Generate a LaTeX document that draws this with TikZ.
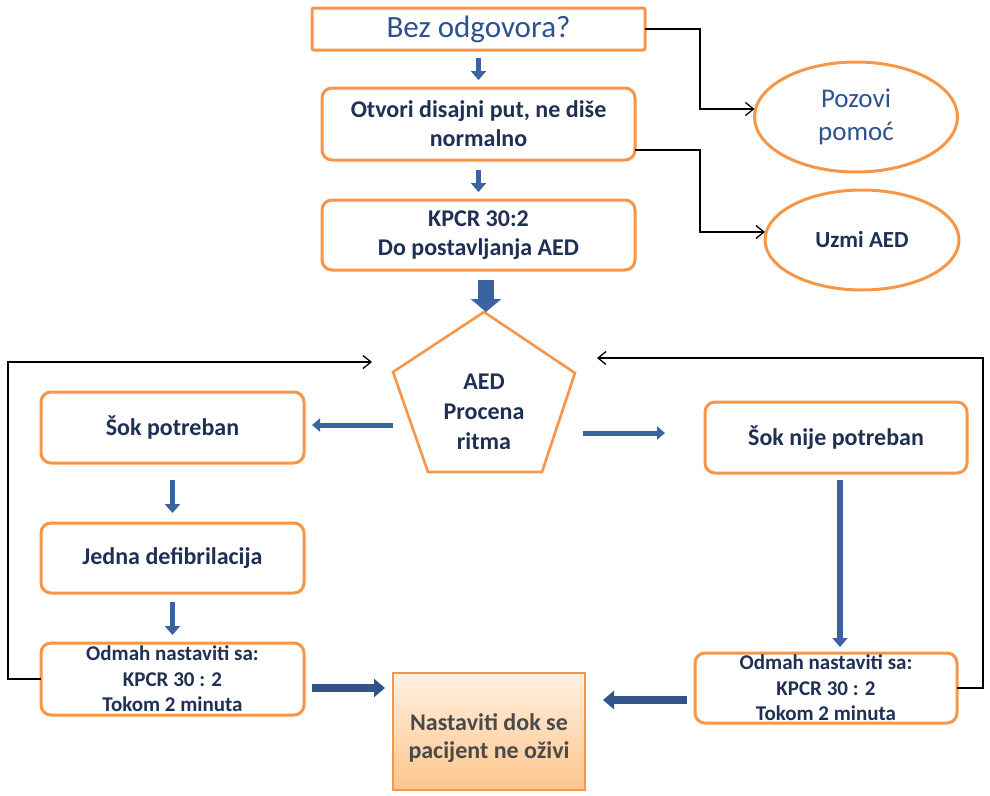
\documentclass[tikz,border=0pt]{standalone}
\usepackage{fontspec}
\setmainfont{Carlito}
\usetikzlibrary{arrows.meta,shapes.geometric,calc}
\definecolor{obord}{HTML}{F79646}
\definecolor{navy}{HTML}{1F3054}
\definecolor{mblue}{HTML}{2D5290}
\definecolor{ablue}{HTML}{3C63A0}
\definecolor{gtext}{HTML}{4A4A4A}
\begin{document}
\begin{tikzpicture}[x=1pt,y=-1pt,
 box/.style={draw=obord, line width=3pt, rounded corners=10pt, fill=white, align=center,
   font=\fontsize{24}{29}\selectfont\bfseries, text=navy, inner sep=0pt, outer sep=0pt},
 smallbox/.style={box, font=\fontsize{21}{25.5}\selectfont\bfseries},
 ell/.style={draw=obord, line width=3pt, ellipse, inner sep=0pt, outer sep=0pt, align=center},
 conn/.style={draw=black, line width=1.3pt, -{Straight Barb[length=8pt,width=13pt]}},
 barrow/.style={draw=ablue, line width=5.5pt, -{Triangle[length=9pt,width=15pt]}},
 harrow/.style={draw=ablue, line width=5pt, -{Triangle[length=8pt,width=13pt]}},
 bigarrow/.style={draw=ablue, line width=16pt, -{Triangle[length=13pt,width=30pt]}},
 fatarrow/.style={draw=ablue!85!black, line width=8pt, -{Triangle[length=11pt,width=18pt]}},
]
\useasboundingbox (0,0) rectangle (990,795);
\clip (0,0) rectangle (990,795);

% top column
\node[box, rounded corners=2pt, minimum width=333pt, minimum height=42pt,
      font=\fontsize{31}{36}\selectfont, text=mblue] (top) at (478.5,29) {Bez odgovora?};
\node[box, minimum width=313pt, minimum height=72pt] (open) at (478.5,124) {Otvori disajni put, ne diše\\normalno};
\node[box, minimum width=313pt, minimum height=70pt] (kpcr) at (478.5,235) {KPCR 30:2\\Do postavljanja AED};

% ellipses
\node[ell, minimum width=203pt, minimum height=110pt, font=\fontsize{27}{33}\selectfont, text=mblue]
      (pozovi) at (856,117) {Pozovi\\pomoć};
\node[ell, minimum width=194pt, minimum height=100pt, font=\fontsize{23}{28}\selectfont\bfseries, text=navy]
      (uzmi) at (862,240) {Uzmi AED};

% pentagon
\coordinate (pT) at (484,312);
\coordinate (pL) at (393,372);
\coordinate (pR) at (575,373);
\coordinate (pBL) at (428,472);
\coordinate (pBR) at (542,472);
\draw[draw=obord, line width=2.6pt, line join=miter] (pT) -- (pR) -- (pBR) -- (pBL) -- (pL) -- cycle;
\node[font=\fontsize{24}{30}\selectfont\bfseries, text=navy, align=center] (aed) at (484,412) {AED\\Procena\\ritma};
\coordinate (aedL) at (393,425);
\coordinate (aedR) at (583,433);

% left column
\node[box, minimum width=263pt, minimum height=71pt] (sokp) at (172.5,427.5) {Šok potreban};
\node[box, minimum width=263pt, minimum height=70pt] (jedna) at (172.5,558) {Jedna defibrilacija};
\node[smallbox, minimum width=263pt, minimum height=72pt] (odmahL) at (172.5,679) {Odmah nastaviti sa:\\KPCR 30 : 2\\Tokom 2 minuta};

% right column
\node[box, minimum width=262pt, minimum height=71pt] (soknp) at (836,437.5) {Šok nije potreban};
\node[smallbox, minimum width=262pt, minimum height=70pt] (odmahR) at (826,688) {Odmah nastaviti sa:\\KPCR 30 : 2\\Tokom 2 minuta};

% centre bottom box
\node[draw=obord, line width=1.2pt, top color=orange!12!white, bottom color=orange!45!white,
      minimum width=192pt, minimum height=117pt, inner sep=0pt, outer sep=0pt] (cont) at (489,731.5) {};
\node[font=\fontsize{24}{28}\selectfont\bfseries, text=gtext, align=center] (conttext) at (489,738) {Nastaviti dok se\\pacijent ne oživi};

% blue arrows
\draw[barrow] ([yshift=-8pt]top.south) -- ([yshift=8pt]open.north);
\draw[barrow] ([yshift=-10pt]open.south) -- ([yshift=8pt]kpcr.north);
\draw[bigarrow] ($(kpcr.south -| pT)+(2,10)$) -- ($(pT)+(2,0)$);
\draw[harrow] (aedL) -- ($(aedL -| sokp.east)+(8,0)$);
\draw[harrow] (aedR) -- ($(aedR -| soknp.west)+(-40,0)$);
\draw[barrow] ([yshift=-17pt]sokp.south) -- ([yshift=10pt]jedna.north);
\draw[barrow] ([yshift=-9pt]jedna.south) -- ([yshift=8pt]odmahL.north);
\draw[barrow] ([yshift=-7pt,xshift=4pt]soknp.south) -- ([yshift=6pt]odmahR.north -| {$(soknp.south)+(4,0)$});
\draw[fatarrow] ($(odmahL.east)+(8,9)$) -- ($(cont.west |- odmahL.east)+(-8,9)$);
\draw[fatarrow] ($(odmahR.west)+(-8,12)$) -- ($(cont.east |- odmahR.west)+(18,12)$);

% thin connectors
\coordinate (fbL) at (372,362);
\coordinate (fbR) at (597,358);
\draw[conn] (top.east) -- ++(55,0) |- ([yshift=8pt]pozovi.west);
\draw[conn] ([yshift=-26pt]open.east) -- ++(65,0) |- ([yshift=8pt]uzmi.west);
\draw[conn] (odmahL.west) -- ++(-33,0) |- (fbL);
\draw[conn] (odmahR.east) -- ++(26,0) |- (fbR);
\end{tikzpicture}
\end{document}
